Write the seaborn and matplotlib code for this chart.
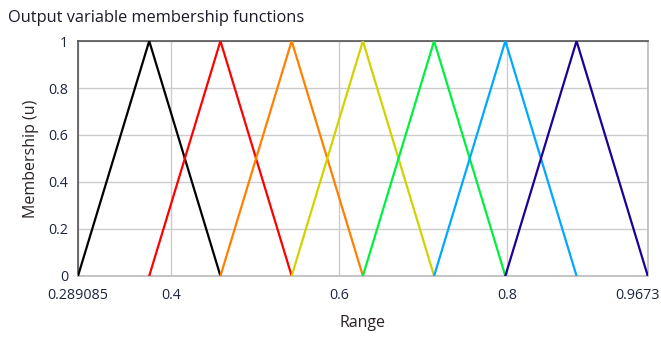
import numpy as np
import pandas as pd
import seaborn as sns
import matplotlib
matplotlib.use("Agg")
import matplotlib.pyplot as plt
from matplotlib.transforms import ScaledTranslation

# Output universe and triangular membership functions
range_min = 0.289085
range_max = 0.9673
set_names = ["MF1", "MF2", "MF3", "MF4", "MF5", "MF6", "MF7"]
left_feet = [0.289085, 0.373862, 0.458639, 0.543416, 0.628193, 0.712970, 0.797747]
peaks = [0.373862, 0.458639, 0.543416, 0.628193, 0.712970, 0.797747, 0.882524]
right_feet = [0.458639, 0.543416, 0.628193, 0.712970, 0.797747, 0.882524, 0.967300]
peak_values = [1, 1, 1, 1, 1, 1, 1]
colors = ["#000000", "#ff0000", "#ff8000", "#d2d200", "#00f040", "#00a8ff", "#1e0096"]

x_ticks = [0.289085, 0.4, 0.6, 0.8, 0.9673]
x_tick_labels = ["0.289085", "0.4", "0.6", "0.8", "0.9673"]
y_ticks = [0, 0.2, 0.4, 0.6, 0.8, 1]
y_tick_labels = ["0", "0.2", "0.4", "0.6", "0.8", "1"]

rows = []
for name, a, b, c, h in zip(set_names, left_feet, peaks, right_feet, peak_values):
    rows += [
        {"set": name, "x": a, "u": 0.0, "order": 0},
        {"set": name, "x": b, "u": h, "order": 1},
        {"set": name, "x": c, "u": 0.0, "order": 2},
    ]
df = pd.DataFrame(rows)

sns.set_theme(style="white")
plt.rcParams["font.family"] = ["Open Sans", "DejaVu Sans"]

fig = plt.figure(figsize=(6.61, 3.39), dpi=100)
ax = fig.add_axes([0.118, 0.186, 0.862, 0.693])

sns.lineplot(data=df, x="x", y="u", hue="set", palette=colors, units="set",
             estimator=None, sort=False, linewidth=1.6, legend=False, ax=ax,
             zorder=3)

ax.set_xlim(range_min, range_max)
ax.set_ylim(0, 1)
ax.set_xticks(x_ticks)
ax.set_xticklabels(x_tick_labels)
ax.set_yticks(y_ticks)
ax.set_yticklabels(y_tick_labels)

tick_color = "#1c2440"
ax.tick_params(axis="both", direction="out", length=4, width=1.2,
               color="#222222", labelsize=10.3, labelcolor=tick_color)
ax.tick_params(axis="x", pad=5)
ax.tick_params(axis="y", pad=3)
ax.grid(True, color="#cccccc", linewidth=1.0, zorder=0)

# keep the last x tick label inside the figure
last = ax.get_xticklabels()[-1]
last.set_transform(last.get_transform() + ScaledTranslation(-10 / 100, 0, fig.dpi_scale_trans))

for side in ["left", "top"]:
    ax.spines[side].set_color("#555555")
    ax.spines[side].set_linewidth(1.2)
for side in ["right", "bottom"]:
    ax.spines[side].set_color("#bbbbbb")
    ax.spines[side].set_linewidth(1.2)

ax.set_xlabel("Range", fontsize=11.5, color="#2a2226", labelpad=8)
ax.set_ylabel("Membership (u)", fontsize=11.5, color="#2a2226", labelpad=7)

fig.text(0.012, 0.948, "Output variable membership functions", fontsize=11.8,
         color="#1a1a2a", ha="left", va="center")

fig.savefig("out.png", dpi=100, facecolor="white")
